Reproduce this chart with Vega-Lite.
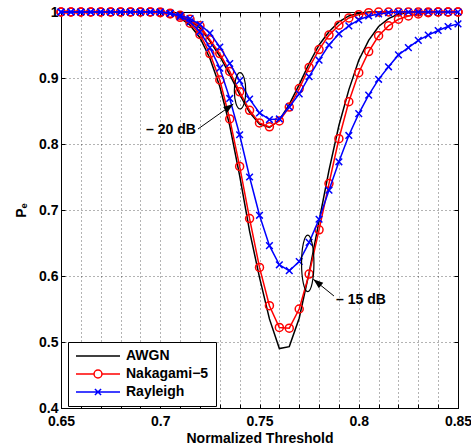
{
  "$schema": "https://vega.github.io/schema/vega-lite/v6.json",
  "width": 397,
  "height": 396,
  "autosize": "none",
  "padding": {"left": 61, "top": 12, "right": 13, "bottom": 40},
  "background": "white",
  "config": {
    "font": "Liberation Sans",
    "view": {"stroke": "black", "strokeWidth": 1},
    "axis": {
      "labelFont": "Liberation Sans", "labelFontWeight": "bold", "labelFontSize": 14, "labelColor": "black",
      "titleFont": "Liberation Sans", "titleFontWeight": "bold", "titleFontSize": 14, "titleColor": "black",
      "domainColor": "black", "tickColor": "black", "gridColor": "#000000", "gridOpacity": 0.6, "gridDash": [1, 3], "gridWidth": 1
    },
    "legend": {
      "orient": "none", "legendX": 7, "legendY": 330, "strokeColor": "black", "fillColor": "white",
      "padding": 7, "cornerRadius": 0, "labelFont": "Liberation Sans", "labelFontWeight": "bold",
      "labelFontSize": 14, "labelColor": "black", "labelAlign": "left", "symbolSize": 1936, "symbolStrokeWidth": 1.5,
      "labelOffset": 5, "rowPadding": 4, "clipHeight": 14
    }
  },
  "datasets": {
    "pe": [
      {"x": 0.65, "a20": 1, "a15": 1, "n20": 1, "n15": 1, "r20": 1, "r15": 1},
      {"x": 0.655, "a20": 1, "a15": 1, "n20": 1, "n15": 1, "r20": 1, "r15": 1},
      {"x": 0.66, "a20": 1, "a15": 1, "n20": 1, "n15": 1, "r20": 1, "r15": 1},
      {"x": 0.665, "a20": 1, "a15": 1, "n20": 1, "n15": 1, "r20": 1, "r15": 1},
      {"x": 0.67, "a20": 1, "a15": 1, "n20": 1, "n15": 1, "r20": 1, "r15": 1},
      {"x": 0.675, "a20": 1, "a15": 1, "n20": 1, "n15": 1, "r20": 1, "r15": 1},
      {"x": 0.68, "a20": 1, "a15": 1, "n20": 1, "n15": 1, "r20": 1, "r15": 1},
      {"x": 0.685, "a20": 1, "a15": 1, "n20": 1, "n15": 1, "r20": 1, "r15": 1},
      {"x": 0.69, "a20": 1, "a15": 1, "n20": 1, "n15": 1, "r20": 1, "r15": 1},
      {"x": 0.695, "a20": 1, "a15": 1, "n20": 1, "n15": 1, "r20": 1, "r15": 1},
      {"x": 0.7, "a20": 1, "a15": 1, "n20": 1, "n15": 0.999, "r20": 1, "r15": 1},
      {"x": 0.705, "a20": 0.998, "a15": 0.998, "n20": 0.998, "n15": 0.997, "r20": 0.998, "r15": 0.998},
      {"x": 0.71, "a20": 0.994, "a15": 0.991, "n20": 0.995, "n15": 0.992, "r20": 0.995, "r15": 0.993},
      {"x": 0.715, "a20": 0.987, "a15": 0.98, "n20": 0.989, "n15": 0.983, "r20": 0.99, "r15": 0.985},
      {"x": 0.72, "a20": 0.976, "a15": 0.961, "n20": 0.979, "n15": 0.966, "r20": 0.981, "r15": 0.97},
      {"x": 0.725, "a20": 0.956, "a15": 0.93, "n20": 0.958, "n15": 0.937, "r20": 0.968, "r15": 0.946},
      {"x": 0.73, "a20": 0.933, "a15": 0.887, "n20": 0.937, "n15": 0.897, "r20": 0.947, "r15": 0.915},
      {"x": 0.735, "a20": 0.905, "a15": 0.828, "n20": 0.91, "n15": 0.838, "r20": 0.922, "r15": 0.869},
      {"x": 0.74, "a20": 0.875, "a15": 0.752, "n20": 0.879, "n15": 0.766, "r20": 0.896, "r15": 0.814},
      {"x": 0.745, "a20": 0.848, "a15": 0.668, "n20": 0.851, "n15": 0.687, "r20": 0.868, "r15": 0.75},
      {"x": 0.75, "a20": 0.83, "a15": 0.598, "n20": 0.832, "n15": 0.613, "r20": 0.847, "r15": 0.692},
      {"x": 0.755, "a20": 0.825, "a15": 0.535, "n20": 0.826, "n15": 0.555, "r20": 0.837, "r15": 0.646},
      {"x": 0.76, "a20": 0.836, "a15": 0.49, "n20": 0.835, "n15": 0.522, "r20": 0.838, "r15": 0.617},
      {"x": 0.765, "a20": 0.86, "a15": 0.493, "n20": 0.856, "n15": 0.521, "r20": 0.856, "r15": 0.608},
      {"x": 0.77, "a20": 0.89, "a15": 0.536, "n20": 0.884, "n15": 0.55, "r20": 0.876, "r15": 0.622},
      {"x": 0.775, "a20": 0.922, "a15": 0.605, "n20": 0.916, "n15": 0.603, "r20": 0.902, "r15": 0.651},
      {"x": 0.78, "a20": 0.95, "a15": 0.683, "n20": 0.943, "n15": 0.67, "r20": 0.927, "r15": 0.686},
      {"x": 0.785, "a20": 0.97, "a15": 0.76, "n20": 0.965, "n15": 0.74, "r20": 0.95, "r15": 0.73},
      {"x": 0.79, "a20": 0.985, "a15": 0.828, "n20": 0.98, "n15": 0.808, "r20": 0.967, "r15": 0.773},
      {"x": 0.795, "a20": 0.994, "a15": 0.882, "n20": 0.991, "n15": 0.864, "r20": 0.979, "r15": 0.813},
      {"x": 0.8, "a20": 0.998, "a15": 0.927, "n20": 0.996, "n15": 0.908, "r20": 0.988, "r15": 0.846},
      {"x": 0.805, "a20": 1, "a15": 0.957, "n20": 0.999, "n15": 0.94, "r20": 0.994, "r15": 0.874},
      {"x": 0.81, "a20": 1, "a15": 0.978, "n20": 1, "n15": 0.964, "r20": 0.997, "r15": 0.898},
      {"x": 0.815, "a20": 1, "a15": 0.99, "n20": 1, "n15": 0.979, "r20": 0.999, "r15": 0.917},
      {"x": 0.82, "a20": 1, "a15": 0.997, "n20": 1, "n15": 0.989, "r20": 1, "r15": 0.935},
      {"x": 0.825, "a20": 1, "a15": 0.999, "n20": 1, "n15": 0.994, "r20": 1, "r15": 0.946},
      {"x": 0.83, "a20": 1, "a15": 1, "n20": 1, "n15": 0.997, "r20": 1, "r15": 0.957},
      {"x": 0.835, "a20": 1, "a15": 1, "n20": 1, "n15": 0.999, "r20": 1, "r15": 0.965},
      {"x": 0.84, "a20": 1, "a15": 1, "n20": 1, "n15": 1, "r20": 1, "r15": 0.972},
      {"x": 0.845, "a20": 1, "a15": 1, "n20": 1, "n15": 1, "r20": 1, "r15": 0.978},
      {"x": 0.85, "a20": 1, "a15": 1, "n20": 1, "n15": 1, "r20": 1, "r15": 0.982}
    ],
    "ann": [
      {"id": "e20", "x": 0.7402, "y": 0.8806},
      {"id": "e15", "x": 0.7743, "y": 0.6192},
      {"id": "a20", "x": 0.719, "y": 0.8227, "x2": 0.7368, "y2": 0.8606},
      {"id": "a15", "x": 0.7875, "y": 0.5697, "x2": 0.7771, "y2": 0.595},
      {"id": "t20", "x": 0.7054, "y": 0.8212, "label": "– 20 dB"},
      {"id": "t15", "x": 0.8011, "y": 0.5636, "label": "– 15 dB"}
    ]
  },
  "layer": [
    {
      "data": {"name": "pe"},
      "transform": [{"fold": ["a20", "a15"], "as": ["snr", "pe"]}],
      "mark": {"type": "line", "strokeWidth": 1.5},
      "encoding": {
        "x": {"field": "x", "type": "quantitative", "scale": {"domain": [0.65, 0.85], "nice": false, "zero": false},
          "axis": {"orient": "bottom", "title": "Normalized Threshold", "values": [0.65,0.66,0.67,0.68,0.69,0.7,0.71,0.72,0.73,0.74,0.75,0.76,0.77,0.78,0.79,0.8,0.81,0.82,0.83,0.84,0.85],
            "format": "~g", "labelExpr": "abs(datum.value*20 - round(datum.value*20)) < 0.001 ? datum.label : ''",
            "grid": true, "tickSize": -4, "labelPadding": 10, "titlePadding": 3, "labelFlush": false}},
        "y": {"field": "pe", "type": "quantitative", "scale": {"domain": [0.4, 1], "nice": false, "zero": false},
          "axis": {"orient": "left", "title": "Pₑ", "values": [0.4,0.5,0.6,0.7,0.8,0.9,1], "format": "~g",
            "grid": true, "tickSize": -4, "labelPadding": 7, "titlePadding": 10, "labelFlush": false}},
        "detail": {"field": "snr"},
        "color": {"datum": "AWGN", "type": "nominal",
          "scale": {"domain": ["AWGN", "Nakagami−5", "Rayleigh"], "range": ["#000000", "#ff0000", "#0000ff"]},
          "legend": {"title": null,
            "encode": {
              "symbols": {"update": {
              "shape": {"signal": "datum.value == 'AWGN' ? 'M-1,0L1,0' : (datum.value == 'Rayleigh' ? 'M-1,0L1,0M-0.14,-0.14L0.14,0.14M-0.14,0.14L0.14,-0.14' : 'M-1,0L-0.18,0M0.18,0L1,0M0.18,0C0.18,0.1 0.1,0.18 0,0.18C-0.1,0.18 -0.18,0.1 -0.18,0C-0.18,-0.1 -0.1,-0.18 0,-0.18C0.1,-0.18 0.18,-0.1 0.18,0Z')"},
              "fill": {"value": "transparent"}}}}}}
      }
    },
    {
      "data": {"name": "pe"},
      "transform": [{"fold": ["n20", "n15"], "as": ["snr", "pe"]}],
      "mark": {"type": "line", "strokeWidth": 1.5},
      "encoding": {
        "x": {"field": "x", "type": "quantitative", "axis": null},
        "y": {"field": "pe", "type": "quantitative", "axis": null},
        "detail": {"field": "snr"},
        "color": {"datum": "Nakagami−5", "type": "nominal"}
      }
    },
    {
      "data": {"name": "pe"},
      "transform": [{"fold": ["n20", "n15"], "as": ["snr", "pe"]}],
      "mark": {"type": "point", "shape": "circle", "size": 64, "filled": false, "color": "#ff0000", "strokeWidth": 1.5, "opacity": 1},
      "encoding": {
        "x": {"field": "x", "type": "quantitative", "axis": null},
        "y": {"field": "pe", "type": "quantitative", "axis": null}
      }
    },
    {
      "data": {"name": "pe"},
      "transform": [{"fold": ["r20", "r15"], "as": ["snr", "pe"]}],
      "mark": {"type": "line", "strokeWidth": 1.5},
      "encoding": {
        "x": {"field": "x", "type": "quantitative", "axis": null},
        "y": {"field": "pe", "type": "quantitative", "axis": null},
        "detail": {"field": "snr"},
        "color": {"datum": "Rayleigh", "type": "nominal"}
      }
    },
    {
      "data": {"name": "pe"},
      "transform": [{"fold": ["r20", "r15"], "as": ["snr", "pe"]}],
      "mark": {"type": "point", "shape": "M-1,-1L1,1M-1,1L1,-1", "size": 44, "filled": false, "color": "#0000ff", "strokeWidth": 1.5, "opacity": 1},
      "encoding": {
        "x": {"field": "x", "type": "quantitative", "axis": null},
        "y": {"field": "pe", "type": "quantitative", "axis": null}
      }
    },
    {
      "data": {"name": "ann"},
      "transform": [{"filter": "datum.id == 'e20'"}],
      "mark": {"type": "point", "shape": "M0,-1C0.173,-1 0.313,-0.552 0.313,0C0.313,0.552 0.173,1 0,1C-0.173,1 -0.313,0.552 -0.313,0C-0.313,-0.552 -0.173,-1 0,-1Z", "size": 1325, "filled": false, "color": "black", "strokeWidth": 1.2, "opacity": 1},
      "encoding": {
        "x": {"field": "x", "type": "quantitative", "axis": null},
        "y": {"field": "y", "type": "quantitative", "axis": null}
      }
    },
    {
      "data": {"name": "ann"},
      "transform": [{"filter": "datum.id == 'e15'"}],
      "mark": {"type": "point", "shape": "M0,-1C0.121,-1 0.219,-0.552 0.219,0C0.219,0.552 0.121,1 0,1C-0.121,1 -0.219,0.552 -0.219,0C-0.219,-0.552 -0.121,-1 0,-1Z", "size": 3204, "filled": false, "color": "black", "strokeWidth": 1.2, "opacity": 1},
      "encoding": {
        "x": {"field": "x", "type": "quantitative", "axis": null},
        "y": {"field": "y", "type": "quantitative", "axis": null}
      }
    },
    {
      "data": {"name": "ann"},
      "transform": [{"filter": "datum.id == 'a20' || datum.id == 'a15'"}],
      "mark": {"type": "rule", "color": "black", "strokeWidth": 1},
      "encoding": {
        "x": {"field": "x", "type": "quantitative", "axis": null},
        "y": {"field": "y", "type": "quantitative", "axis": null},
        "x2": {"field": "x2"},
        "y2": {"field": "y2"}
      }
    },
    {
      "data": {"name": "ann"},
      "transform": [{"filter": "datum.id == 'a20'"}],
      "mark": {"type": "point", "shape": "M0,0L-0.35,1L0.35,1Z", "size": 400, "filled": true, "color": "black", "strokeWidth": 0, "opacity": 1, "angle": 54},
      "encoding": {
        "x": {"field": "x2", "type": "quantitative", "axis": null},
        "y": {"field": "y2", "type": "quantitative", "axis": null}
      }
    },
    {
      "data": {"name": "ann"},
      "transform": [{"filter": "datum.id == 'a15'"}],
      "mark": {"type": "point", "shape": "M0,0L-0.35,1L0.35,1Z", "size": 400, "filled": true, "color": "black", "strokeWidth": 0, "opacity": 1, "angle": 309},
      "encoding": {
        "x": {"field": "x2", "type": "quantitative", "axis": null},
        "y": {"field": "y2", "type": "quantitative", "axis": null}
      }
    },
    {
      "data": {"name": "ann"},
      "transform": [{"filter": "isValid(datum.label)"}],
      "mark": {"type": "text", "font": "Liberation Sans", "fontWeight": "bold", "fontSize": 14, "color": "black", "align": "center", "baseline": "middle"},
      "encoding": {
        "x": {"field": "x", "type": "quantitative", "axis": null},
        "y": {"field": "y", "type": "quantitative", "axis": null},
        "text": {"field": "label"}
      }
    },
    {
      "data": {"name": "pe"},
      "mark": {"type": "point", "opacity": 0},
      "encoding": {
        "x": {"field": "x", "type": "quantitative",
          "axis": {"orient": "top", "title": null, "labels": false, "grid": false, "domain": false, "tickSize": -4,
            "values": [0.65,0.66,0.67,0.68,0.69,0.7,0.71,0.72,0.73,0.74,0.75,0.76,0.77,0.78,0.79,0.8,0.81,0.82,0.83,0.84,0.85]}},
        "y": {"field": "a20", "type": "quantitative",
          "axis": {"orient": "right", "title": null, "labels": false, "grid": false, "domain": false, "tickSize": -4,
            "values": [0.4,0.5,0.6,0.7,0.8,0.9,1]}}
      }
    }
  ],
  "resolve": {"axis": {"x": "independent", "y": "independent"}}
}
